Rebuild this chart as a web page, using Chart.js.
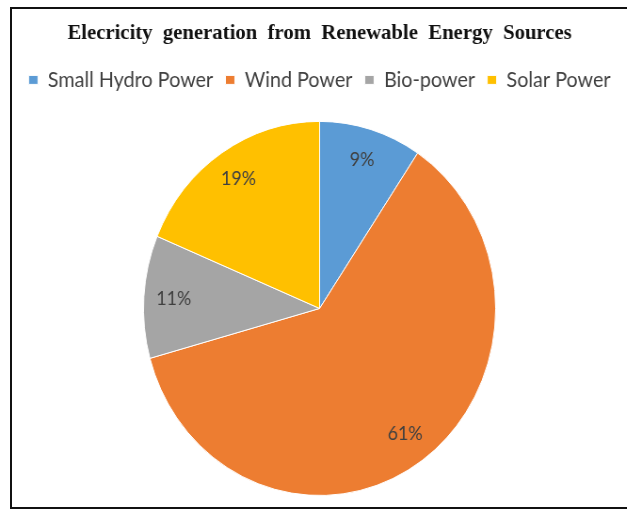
<!DOCTYPE html>
<html>
<head>
<meta charset="utf-8">
<script src="https://cdn.jsdelivr.net/npm/chart.js@4.4.1/dist/chart.umd.min.js"></script>
<style>
  html, body { margin: 0; padding: 0; background: #fff; overflow: hidden; }
  #frame {
    position: absolute; left: 10px; top: 7px; width: 640px; height: 498px;
    border: 2px solid #111; box-sizing: content-box;
  }
  #wrap {
    position: absolute; left: 0; top: 0; width: 666px; height: 510px;
    transform: scaleX(0.9413); transform-origin: 0 0;
  }
</style>
</head>
<body>
<div id="frame"></div>
<div id="wrap"><canvas id="c"></canvas></div>
<script>
const titleText = 'Elecricity  generation  from  Renewable  Energy  Sources';
const categories = ['Small Hydro Power', 'Wind Power', 'Bio-power', 'Solar Power'];
const shares = [9.4, 61.3, 10.6, 18.7];
const colors = ['#5B9BD5', '#ED7D31', '#A5A5A5', '#FFC000'];

const legendSpacer = {
  id: 'legendSpacer',
  beforeInit(chart) {
    const fit = chart.legend.fit;
    chart.legend.fit = function () {
      fit.call(this);
      this.height += 20.5;
    };
  }
};

const pctLabels = {
  id: 'pctLabels',
  afterDatasetsDraw(chart) {
    const ctx = chart.ctx;
    const meta = chart.getDatasetMeta(0);
    const data = chart.data.datasets[0].data;
    const total = data.reduce((a, b) => a + b, 0);
    ctx.save();
    ctx.font = '19px Lato';
    ctx.fillStyle = '#404040';
    ctx.textAlign = 'center';
    ctx.textBaseline = 'middle';
    meta.data.forEach((arc, i) => {
      const p = arc.getProps(['x', 'y', 'startAngle', 'endAngle', 'outerRadius'], true);
      const mid = (p.startAngle + p.endAngle) / 2;
      const r = p.outerRadius * 0.83;
      const txt = Math.round(data[i] / total * 100) + '%';
      ctx.fillText(txt, p.x + Math.cos(mid) * r, p.y + Math.sin(mid) * r);
    });
    ctx.restore();
  }
};

new Chart(document.getElementById('c'), {
  type: 'pie',
  data: {
    labels: categories,
    datasets: [{
      data: shares,
      backgroundColor: colors,
      borderColor: '#ffffff',
      borderWidth: 1
    }]
  },
  options: {
    responsive: true,
    maintainAspectRatio: false,
    animation: false,
    layout: { padding: { top: 20, left: 13, right: 0, bottom: 14 } },
    plugins: {
      title: {
        display: true,
        text: titleText,
        color: '#111',
        font: { family: 'Liberation Serif', size: 22, weight: 'bold', lineHeight: 1.2 },
        padding: { top: 0, bottom: 10 }
      },
      legend: {
        display: true,
        position: 'top',
        labels: {
          font: { family: 'Lato', size: 21 },
          color: '#404040',
          boxWidth: 10,
          boxHeight: 9,
          padding: 13
        }
      },
      tooltip: { enabled: false }
    }
  },
  plugins: [legendSpacer, pctLabels]
});
</script>
</body>
</html>
